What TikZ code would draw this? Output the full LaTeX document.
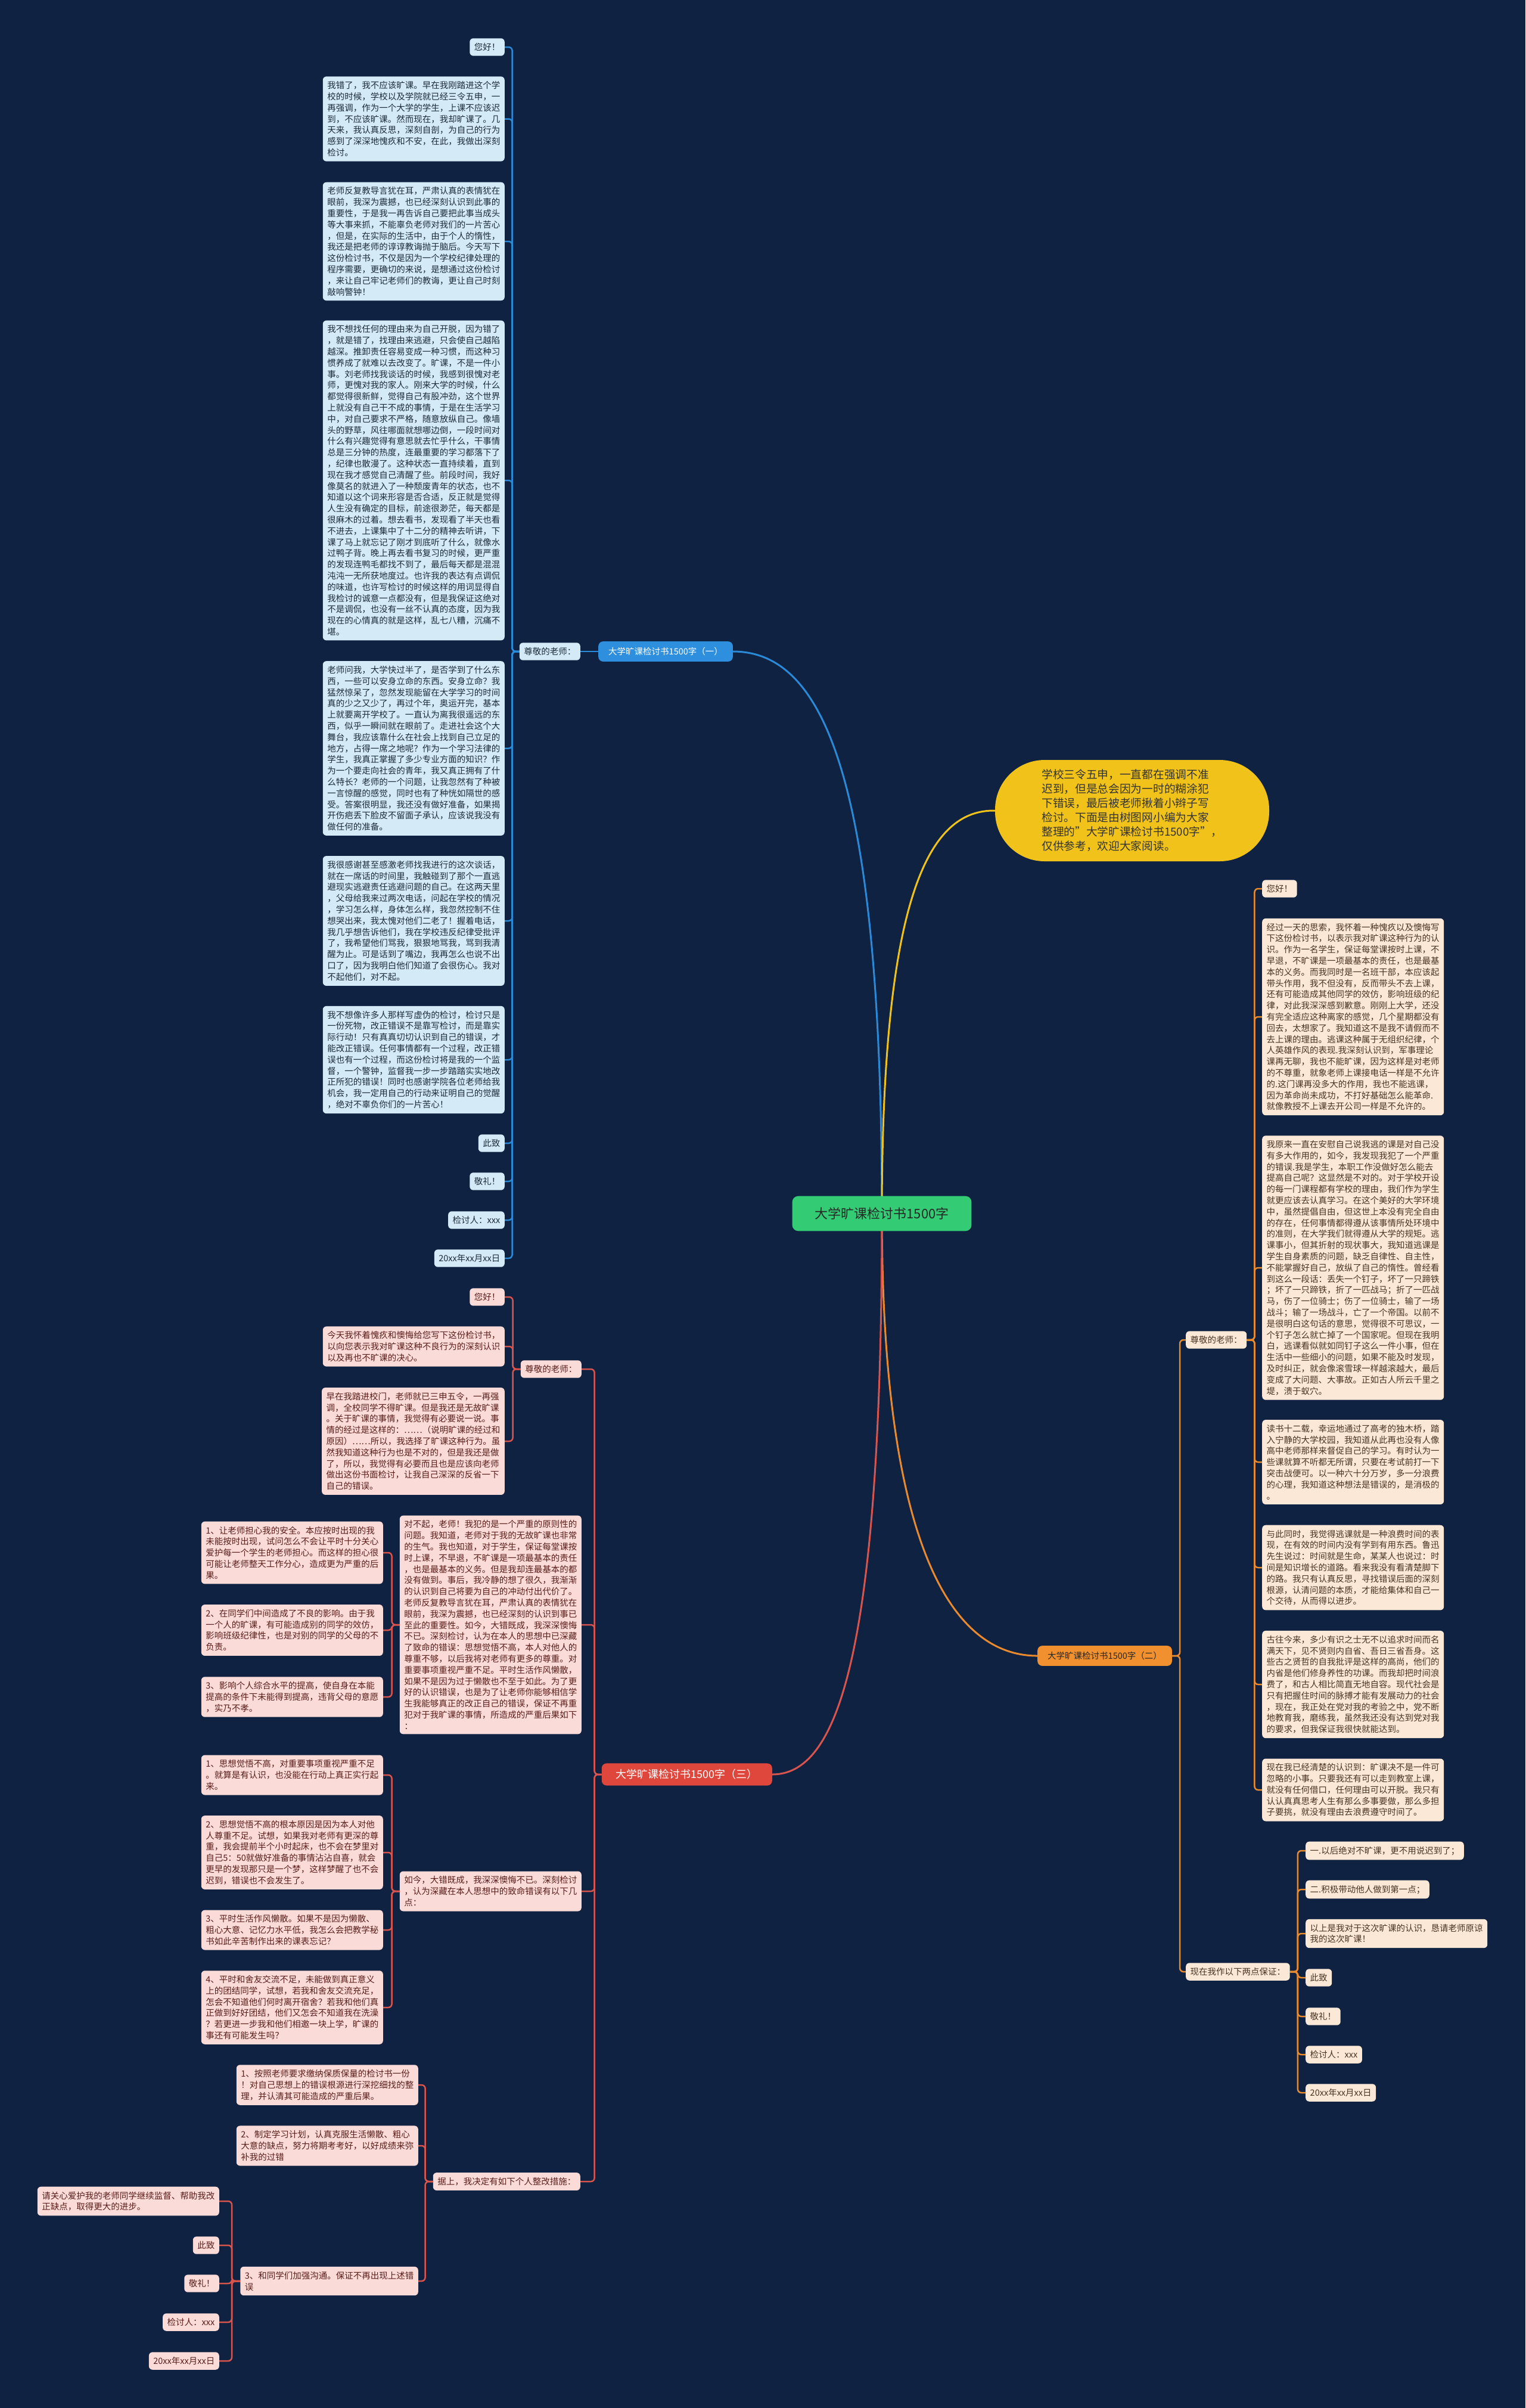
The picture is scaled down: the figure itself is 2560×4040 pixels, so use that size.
\documentclass[tikz,border=0pt]{standalone}
\usepackage{fontspec}
\setmainfont{Noto Sans CJK SC}
\usetikzlibrary{backgrounds}
\definecolor{bgc}{HTML}{0F2242}
\definecolor{bAline}{HTML}{2A8AD8}
\definecolor{bAfill}{HTML}{D4EAF7}
\definecolor{bAtext}{HTML}{1C2B3A}
\definecolor{bAlab}{HTML}{2D8FDD}
\definecolor{bBline}{HTML}{E98A2E}
\definecolor{bBfill}{HTML}{FBE8D6}
\definecolor{bBtext}{HTML}{4A3322}
\definecolor{bBlab}{HTML}{F0902E}
\definecolor{bCline}{HTML}{D9544C}
\definecolor{bCfill}{HTML}{FADBD8}
\definecolor{bCtext}{HTML}{5A1E1A}
\definecolor{bClab}{HTML}{E0473C}
\definecolor{rootc}{HTML}{33CC74}
\definecolor{introc}{HTML}{F1C31A}
\newcommand\boxfont{\fontsize{14.5pt}{18.8pt}\selectfont}
\newcommand\labfont{\fontsize{14.5pt}{18.8pt}\selectfont}
\tikzset{
  basebox/.style={rounded corners=6pt, inner xsep=7.5pt, inner ysep=8pt, align=left, font=\boxfont},
  abox/.style={basebox, fill=bAfill, text=bAtext},
  bbox/.style={basebox, fill=bBfill, text=bBtext},
  cbox/.style={basebox, fill=bCfill, text=bCtext},
  aline/.style={draw=bAline, line width=2.5pt, rounded corners=6pt},
  bline/.style={draw=bBline, line width=2.5pt, rounded corners=6pt},
  cline/.style={draw=bCline, line width=2.5pt, rounded corners=6pt},
  branchlab/.style={rounded corners=8pt, inner xsep=17pt, inner ysep=10pt, font=\labfont},
  mainline/.style={line width=3pt}
}
\begin{document}
\begin{tikzpicture}[x=1pt,y=-1pt]
\useasboundingbox (0,0) rectangle (2560,4040);
\begin{pgfonlayer}{background}
\fill[bgc] (0,0) rectangle (2560,4040);
\end{pgfonlayer}

% root and intro
\node[fill=rootc, text=black!85, rounded corners=10pt, inner xsep=38pt, inner ysep=19pt, font=\fontsize{22pt}{26pt}\selectfont] (root) at (1480,2036) {大学旷课检讨书1500字};
\node[fill=introc, text=black!80, rounded corners=83pt, minimum width=460pt, minimum height=170pt, align=left, font=\fontsize{18.7pt}{24pt}\selectfont] (intro) at (1900,1360) {学校三令五申，一直都在强调不准\\迟到，但是总会因为一时的糊涂犯\\下错误，最后被老师揪着小辫子写\\检讨。下面是由树图网小编为大家\\整理的"大学旷课检讨书1500字"，\\仅供参考，欢迎大家阅读。};

% ---------------- branch 1 (blue)
\node[branchlab, fill=bAlab, text=white, anchor=west] (bA) at (1004,1093) {大学旷课检讨书1500字（一）};
\node[abox, anchor=east] (bAt) at (974,1093) {尊敬的老师：};
\node[abox, anchor=east] (a1) at (847,79) {您好！};
\node[abox, anchor=east] (a2) at (847,199.5) {我错了，我不应该旷课。早在我刚踏进这个学\\校的时候，学校以及学院就已经三令五申，一\\再强调，作为一个大学的学生，上课不应该迟\\到，不应该旷课。然而现在，我却旷课了。几\\天来，我认真反思，深刻自剖，为自己的行为\\感到了深深地愧疚和不安，在此，我做出深刻\\检讨。};
\node[abox, anchor=east] (a3) at (847,405) {老师反复教导言犹在耳，严肃认真的表情犹在\\眼前，我深为震撼，也已经深刻认识到此事的\\重要性，于是我一再告诉自己要把此事当成头\\等大事来抓，不能辜负老师对我们的一片苦心\\，但是，在实际的生活中，由于个人的惰性，\\我还是把老师的谆谆教诲抛于脑后。今天写下\\这份检讨书，不仅是因为一个学校纪律处理的\\程序需要，更确切的来说，是想通过这份检讨\\，来让自己牢记老师们的教诲，更让自己时刻\\敲响警钟！};
\node[abox, anchor=east] (a4) at (847,806) {我不想找任何的理由来为自己开脱，因为错了\\，就是错了，找理由来逃避，只会使自己越陷\\越深。推卸责任容易变成一种习惯，而这种习\\惯养成了就难以去改变了。旷课，不是一件小\\事。刘老师找我谈话的时候，我感到很愧对老\\师，更愧对我的家人。刚来大学的时候，什么\\都觉得很新鲜，觉得自己有股冲劲，这个世界\\上就没有自己干不成的事情，于是在生活学习\\中，对自己要求不严格，随意放纵自己。像墙\\头的野草，风往哪面就想哪边倒，一段时间对\\什么有兴趣觉得有意思就去忙乎什么，干事情\\总是三分钟的热度，连最重要的学习都落下了\\，纪律也散漫了。这种状态一直持续着，直到\\现在我才感觉自己清醒了些。前段时间，我好\\像莫名的就进入了一种颓废青年的状态，也不\\知道以这个词来形容是否合适，反正就是觉得\\人生没有确定的目标，前途很渺茫，每天都是\\很麻木的过着。想去看书，发现看了半天也看\\不进去，上课集中了十二分的精神去听讲，下\\课了马上就忘记了刚才到底听了什么，就像水\\过鸭子背。晚上再去看书复习的时候，更严重\\的发现连鸭毛都找不到了，最后每天都是混混\\沌沌一无所获地度过。也许我的表达有点调侃\\的味道，也许写检讨的时候这样的用词显得自\\我检讨的诚意一点都没有，但是我保证这绝对\\不是调侃，也没有一丝不认真的态度，因为我\\现在的心情真的就是这样，乱七八糟，沉痛不\\堪。};
\node[abox, anchor=east] (a5) at (847,1255.5) {老师问我，大学快过半了，是否学到了什么东\\西，一些可以安身立命的东西。安身立命？我\\猛然惊呆了，忽然发现能留在大学学习的时间\\真的少之又少了，再过个年，奥运开完，基本\\上就要离开学校了。一直认为离我很遥远的东\\西，似乎一瞬间就在眼前了。走进社会这个大\\舞台，我应该靠什么在社会上找到自己立足的\\地方，占得一席之地呢？作为一个学习法律的\\学生，我真正掌握了多少专业方面的知识？作\\为一个要走向社会的青年，我又真正拥有了什\\么特长？老师的一个问题，让我忽然有了种被\\一言惊醒的感觉，同时也有了种恍如隔世的感\\受。答案很明显，我还没有做好准备，如果揭\\开伤疤丢下脸皮不留面子承认，应该说我没有\\做任何的准备。};
\node[abox, anchor=east] (a6) at (847,1545) {我很感谢甚至感激老师找我进行的这次谈话，\\就在一席话的时间里，我触碰到了那个一直逃\\避现实逃避责任逃避问题的自己。在这两天里\\，父母给我来过两次电话，问起在学校的情况\\，学习怎么样，身体怎么样，我忽然控制不住\\想哭出来，我太愧对他们二老了！握着电话，\\我几乎想告诉他们，我在学校违反纪律受批评\\了，我希望他们骂我，狠狠地骂我，骂到我清\\醒为止。可是话到了嘴边，我再怎么也说不出\\口了，因为我明白他们知道了会很伤心。我对\\不起他们，对不起。};
\node[abox, anchor=east] (a7) at (847,1778) {我不想像许多人那样写虚伪的检讨，检讨只是\\一份死物，改正错误不是靠写检讨，而是靠实\\际行动！只有真真切切认识到自己的错误，才\\能改正错误。任何事情都有一个过程，改正错\\误也有一个过程，而这份检讨将是我的一个监\\督，一个警钟，监督我一步一步踏踏实实地改\\正所犯的错误！同时也感谢学院各位老师给我\\机会，我一定用自己的行动来证明自己的觉醒\\，绝对不辜负你们的一片苦心！};
\node[abox, anchor=east] (a8) at (847,1918) {此致};
\node[abox, anchor=east] (a9) at (847,1982) {敬礼！};
\node[abox, anchor=east] (a10) at (847,2047) {检讨人：xxx};
\node[abox, anchor=east] (a11) at (847,2111) {20xx年xx月xx日};

% ---------------- branch 3 (red)
\node[branchlab, fill=bClab, text=white, anchor=east, font=\fontsize{18pt}{22pt}\selectfont, inner xsep=24pt] (bC) at (1296,2977) {大学旷课检讨书1500字（三）};
\node[cbox, anchor=east] (cT) at (976,2297) {尊敬的老师：};
\node[cbox, anchor=east] (cT1) at (847,2176) {您好！};
\node[cbox, anchor=east] (cT2) at (847,2259) {今天我怀着愧疚和懊悔给您写下这份检讨书，\\以向您表示我对旷课这种不良行为的深刻认识\\以及再也不旷课的决心。};
\node[cbox, anchor=east] (cT3) at (847,2418) {早在我踏进校门，老师就已三申五令，一再强\\调，全校同学不得旷课。但是我还是无故旷课\\。关于旷课的事情，我觉得有必要说一说。事\\情的经过是这样的：……（说明旷课的经过和\\原因）……所以，我选择了旷课这种行为。虽\\然我知道这种行为也是不对的，但是我还是做\\了，所以，我觉得有必要而且也是应该向老师\\做出这份书面检讨，让我自己深深的反省一下\\自己的错误。};
\node[cbox, anchor=east] (cS) at (976,2726) {对不起，老师！我犯的是一个严重的原则性的\\问题。我知道，老师对于我的无故旷课也非常\\的生气。我也知道，对于学生，保证每堂课按\\时上课，不早退，不旷课是一项最基本的责任\\，也是最基本的义务。但是我却连最基本的都\\没有做到。事后，我冷静的想了很久，我渐渐\\的认识到自己将要为自己的冲动付出代价了。\\老师反复教导言犹在耳，严肃认真的表情犹在\\眼前，我深为震撼，也已经深刻的认识到事已\\至此的重要性。如今，大错既成，我深深懊悔\\不已。深刻检讨，认为在本人的思想中已深藏\\了致命的错误：思想觉悟不高，本人对他人的\\尊重不够，以后我将对老师有更多的尊重。对\\重要事项重视严重不足。平时生活作风懒散，\\如果不是因为过于懒散也不至于如此。为了更\\好的认识错误，也是为了让老师你能够相信学\\生我能够真正的改正自己的错误，保证不再重\\犯对于我旷课的事情，所造成的严重后果如下\\：};
\node[cbox, anchor=east] (cS1) at (643,2605) {1、让老师担心我的安全。本应按时出现的我\\未能按时出现，试问怎么不会让平时十分关心\\爱护每一个学生的老师担心。而这样的担心很\\可能让老师整天工作分心，造成更为严重的后\\果。};
\node[cbox, anchor=east] (cS2) at (643,2735) {2、在同学们中间造成了不良的影响。由于我\\一个人的旷课，有可能造成别的同学的效仿，\\影响班级纪律性，也是对别的同学的父母的不\\负责。};
\node[cbox, anchor=east] (cS3) at (643,2847) {3、影响个人综合水平的提高，使自身在本能\\提高的条件下未能得到提高，违背父母的意愿\\，实乃不孝。};
\node[cbox, anchor=east] (cR) at (976,3173) {如今，大错既成，我深深懊悔不已。深刻检讨\\，认为深藏在本人思想中的致命错误有以下几\\点：};
\node[cbox, anchor=east] (cR1) at (643,2978) {1、思想觉悟不高，对重要事项重视严重不足\\。就算是有认识，也没能在行动上真正实行起\\来。};
\node[cbox, anchor=east] (cR2) at (643,3108) {2、思想觉悟不高的根本原因是因为本人对他\\人尊重不足。试想，如果我对老师有更深的尊\\重，我会提前半个小时起床，也不会在梦里对\\自己5：50就做好准备的事情沾沾自喜，就会\\更早的发现那只是一个梦，这样梦醒了也不会\\迟到，错误也不会发生了。};
\node[cbox, anchor=east] (cR3) at (643,3238) {3、平时生活作风懒散。如果不是因为懒散、\\粗心大意、记忆力水平低，我怎么会把教学秘\\书如此辛苦制作出来的课表忘记？};
\node[cbox, anchor=east] (cR4) at (643,3368) {4、平时和舍友交流不足，未能做到真正意义\\上的团结同学，试想，若我和舍友交流充足，\\怎会不知道他们何时离开宿舍？若我和他们真\\正做到好好团结，他们又怎会不知道我在洗澡\\？若更进一步我和他们相邀一块上学，旷课的\\事还有可能发生吗？};
\node[cbox, anchor=east] (cM) at (974,3660) {据上，我决定有如下个人整改措施：};
\node[cbox, anchor=east] (cM1) at (702,3498) {1、按照老师要求缴纳保质保量的检讨书一份\\！对自己思想上的错误根源进行深挖细找的整\\理，并认清其可能造成的严重后果。};
\node[cbox, anchor=east] (cM2) at (702,3600) {2、制定学习计划，认真克服生活懒散、粗心\\大意的缺点，努力将期考考好，以好成绩来弥\\补我的过错};
\node[cbox, anchor=east] (cM3) at (702,3827) {3、和同学们加强沟通。保证不再出现上述错\\误};
\node[cbox, anchor=east] (cN1) at (368,3693) {请关心爱护我的老师同学继续监督、帮助我改\\正缺点，取得更大的进步。};
\node[cbox, anchor=east] (cN2) at (368,3767) {此致};
\node[cbox, anchor=east] (cN3) at (368,3831) {敬礼！};
\node[cbox, anchor=east] (cN4) at (368,3896) {检讨人：xxx};
\node[cbox, anchor=east] (cN5) at (368,3961) {20xx年xx月xx日};

% ---------------- branch 2 (orange)
\node[branchlab, fill=bBlab, text=black!85, anchor=west] (bB) at (1741,2778) {大学旷课检讨书1500字（二）};
\node[bbox, anchor=west] (dT) at (1990,2248) {尊敬的老师：};
\node[bbox, anchor=west] (dT1) at (2118,1491) {您好！};
\node[bbox, anchor=west] (dT2) at (2118,1706) {经过一天的思索，我怀着一种愧疚以及懊悔写\\下这份检讨书，以表示我对旷课这种行为的认\\识。作为一名学生，保证每堂课按时上课，不\\早退，不旷课是一项最基本的责任，也是最基\\本的义务。而我同时是一名班干部，本应该起\\带头作用，我不但没有，反而带头不去上课，\\还有可能造成其他同学的效仿，影响班级的纪\\律，对此我深深感到歉意。刚刚上大学，还没\\有完全适应这种离家的感觉，几个星期都没有\\回去，太想家了。我知道这不是我不请假而不\\去上课的理由。逃课这种属于无组织纪律，个\\人英雄作风的表现.我深刻认识到，军事理论\\课再无聊，我也不能旷课，因为这样是对老师\\的不尊重，就象老师上课接电话一样是不允许\\的.这门课再没多大的作用，我也不能逃课，\\因为革命尚未成功，不打好基础怎么能革命.\\就像教授不上课去开公司一样是不允许的。};
\node[bbox, anchor=west] (dT3) at (2118,2127) {我原来一直在安慰自己说我逃的课是对自己没\\有多大作用的，如今，我发现我犯了一个严重\\的错误.我是学生，本职工作没做好怎么能去\\提高自己呢？这显然是不对的。对于学校开设\\的每一门课程都有学校的理由，我们作为学生\\就更应该去认真学习。在这个美好的大学环境\\中，虽然提倡自由，但这世上本没有完全自由\\的存在，任何事情都得遵从该事情所处环境中\\的准则，在大学我们就得遵从大学的规矩。逃\\课事小，但其折射的现状事大，我知道逃课是\\学生自身素质的问题，缺乏自律性、自主性，\\不能掌握好自己，放纵了自己的惰性。曾经看\\到这么一段话：丢失一个钉子，坏了一只蹄铁\\；坏了一只蹄铁，折了一匹战马；折了一匹战\\马，伤了一位骑士；伤了一位骑士，输了一场\\战斗；输了一场战斗，亡了一个帝国。以前不\\是很明白这句话的意思，觉得很不可思议，一\\个钉子怎么就亡掉了一个国家呢。但现在我明\\白，逃课看似就如同钉子这么一件小事，但在\\生活中一些细小的问题，如果不能及时发现，\\及时纠正，就会像滚雪球一样越滚越大，最后\\变成了大问题、大事故。正如古人所云千里之\\堤，溃于蚁穴。};
\node[bbox, anchor=west] (dT4) at (2118,2453) {读书十二载，幸运地通过了高考的独木桥，踏\\入宁静的大学校园，我知道从此再也没有人像\\高中老师那样来督促自己的学习。有时认为一\\些课就算不听都无所谓，只要在考试前打一下\\突击战便可。以一种六十分万岁，多一分浪费\\的心理，我知道这种想法是错误的，是消极的\\。};
\node[bbox, anchor=west] (dT5) at (2118,2630) {与此同时，我觉得逃课就是一种浪费时间的表\\现，在有效的时间内没有学到有用东西。鲁迅\\先生说过：时间就是生命，某某人也说过：时\\间是知识增长的道路。看来我没有看清楚脚下\\的路。我只有认真反思，寻找错误后面的深刻\\根源，认清问题的本质，才能给集体和自己一\\个交待，从而得以进步。};
\node[bbox, anchor=west] (dT6) at (2118,2826) {古往今来，多少有识之士无不以追求时间而名\\满天下，见不贤则内自省、吾日三省吾身。这\\些古之贤哲的自我批评是这样的高尚，他们的\\内省是他们修身养性的功课。而我却把时间浪\\费了，和古人相比简直无地自容。现代社会是\\只有把握住时间的脉搏才能有发展动力的社会\\，现在，我正处在党对我的考验之中，党不断\\地教育我，磨练我，虽然我还没有达到党对我\\的要求，但我保证我很快就能达到。};
\node[bbox, anchor=west] (dT7) at (2118,3003) {现在我已经清楚的认识到：旷课决不是一件可\\忽略的小事。只要我还有可以走到教室上课，\\就没有任何借口，任何理由可以开脱。我只有\\认认真真思考人生有那么多事要做，那么多担\\子要挑，就没有理由去浪费遵守时间了。};
\node[bbox, anchor=west] (dG) at (1990,3308) {现在我作以下两点保证：};
\node[bbox, anchor=west] (dG1) at (2191,3105) {一.以后绝对不旷课，更不用说迟到了；};
\node[bbox, anchor=west] (dG2) at (2191,3170) {二.积极带动他人做到第一点；};
\node[bbox, anchor=west] (dG3) at (2191,3244) {以上是我对于这次旷课的认识，恳请老师原谅\\我的这次旷课！};
\node[bbox, anchor=west] (dG4) at (2191,3318) {此致};
\node[bbox, anchor=west] (dG5) at (2191,3383) {敬礼！};
\node[bbox, anchor=west] (dG6) at (2191,3447) {检讨人：xxx};
\node[bbox, anchor=west] (dG7) at (2191,3511) {20xx年xx月xx日};

% ---------------- connectors
\begin{pgfonlayer}{background}
\draw[mainline, draw=bAline] (root.center) .. controls (1480,1300) and (1380,1093) .. (bA.east);
\draw[mainline, draw=introc] (root.center) .. controls (1480,1500) and (1560,1358) .. (intro.west);
\draw[mainline, draw=bBline] (root.center) .. controls (1480,2600) and (1600,2778) .. (bB.west);
\draw[mainline, draw=bCline] (root.center) .. controls (1480,2800) and (1400,2977) .. (bC.east);

\draw[aline] (bA.west) -- (bAt.east);
\foreach \c in {a1,a2,a3,a4,a5,a6,a7,a8,a9,a10,a11}
  \draw[aline] (bAt.west) -- ++(-12,0) |- (\c.east);

\foreach \c in {cT,cS,cR,cM}
  \draw[cline] (bC.west) -- ++(-12,0) |- (\c.east);
\foreach \c in {cT1,cT2,cT3}
  \draw[cline] (cT.west) -- ++(-13,0) |- (\c.east);
\foreach \c in {cS1,cS2,cS3}
  \draw[cline] (cS.west) -- ++(-13,0) |- (\c.east);
\foreach \c in {cR1,cR2,cR3,cR4}
  \draw[cline] (cR.west) -- ++(-13,0) |- (\c.east);
\foreach \c in {cM1,cM2,cM3}
  \draw[cline] (cM.west) -- ++(-13,0) |- (\c.east);
\foreach \c in {cN1,cN2,cN3,cN4,cN5}
  \draw[cline] (cM3.west) -- ++(-14,0) |- (\c.east);

\foreach \c in {dT,dG}
  \draw[bline] (bB.east) -- ++(13,0) |- (\c.west);
\foreach \c in {dT1,dT2,dT3,dT4,dT5,dT6,dT7}
  \draw[bline] (dT.east) -- ++(13,0) |- (\c.west);
\foreach \c in {dG1,dG2,dG3,dG4,dG5,dG6,dG7}
  \draw[bline] (dG.east) -- ++(13,0) |- (\c.west);
\end{pgfonlayer}
\end{tikzpicture}
\end{document}
